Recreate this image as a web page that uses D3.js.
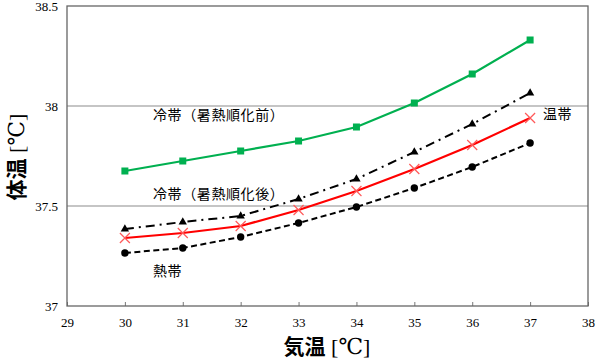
<!DOCTYPE html>
<html><head><meta charset="utf-8">
<script src="https://cdn.jsdelivr.net/npm/d3@7"></script>
<style>body{margin:0;background:#fff}svg{display:block}.serif{font-family:'Liberation Serif','DejaVu Serif',serif}</style>
</head><body><svg id="c" width="600" height="360"></svg>
<script>
const airTemp = [30,31,32,33,34,35,36,37];
const coldBefore = [37.675,37.725,37.775,37.825,37.895,38.015,38.16,38.33];
const coldAfter  = [37.385,37.42,37.45,37.535,37.635,37.77,37.91,38.065];
const temperate  = [37.34,37.365,37.40,37.48,37.575,37.685,37.805,37.94];
const tropical   = [37.265,37.29,37.345,37.415,37.495,37.59,37.695,37.815];
const xTicks = [29,30,31,32,33,34,35,36,37,38];
const yTicks = [37,37.5,38,38.5];
const yTickLabels = ["37","37.5","38","38.5"];
const labels = ["冷帯（暑熱順化前）","冷帯（暑熱順化後）","温帯","熱帯"];

const svg = d3.select("#c");
const x = d3.scaleLinear().domain([29,38]).range([67,588]);
const y = d3.scaleLinear().domain([37,38.5]).range([306,6]);
const serif = "'Liberation Serif','DejaVu Serif',serif";
const cjk = "'Noto Sans CJK JP','Noto Sans CJK SC',sans-serif";

// gridlines
svg.append("g").selectAll("line").data([37.5,38]).join("line")
  .attr("x1",x(29)).attr("x2",x(38)).attr("y1",d=>y(d)).attr("y2",d=>y(d))
  .attr("stroke","#8c8c8c").attr("stroke-width",1.2);

// x axis ticks (inward)
const xa = svg.append("g").attr("transform",`translate(0,${y(37)})`)
  .call(d3.axisBottom(x).tickValues(xTicks).tickSize(-4).tickPadding(12).tickFormat(d3.format("d")));
xa.attr("font-family",serif).attr("font-size",13);
xa.select(".domain").remove();
xa.selectAll("line").attr("stroke","#777");
xa.selectAll("text").attr("class","serif").style("font-family",serif).attr("font-size",13).attr("fill","#000");

// y axis labels
const ya = svg.append("g").attr("transform",`translate(${x(29)},0)`)
  .call(d3.axisLeft(y).tickValues(yTicks).tickSize(0).tickPadding(9).tickFormat((d,i)=>yTickLabels[i]));
ya.attr("font-family",serif).attr("font-size",13);
ya.select(".domain").remove();
ya.selectAll("text").attr("class","serif").style("font-family",serif).attr("font-size",13).attr("fill","#000");

// frame
svg.append("rect").attr("x",x(29)).attr("y",y(38.5)).attr("width",x(38)-x(29)).attr("height",y(37)-y(38.5))
  .attr("fill","none").attr("stroke","#666").attr("stroke-width",1.3);

const line = vals => d3.line().x((d,i)=>x(airTemp[i])).y(d=>y(d))(vals);

// green
svg.append("path").attr("d",line(coldBefore)).attr("fill","none").attr("stroke","#00b050").attr("stroke-width",2.2);
svg.append("g").selectAll("rect").data(coldBefore).join("rect")
  .attr("x",(d,i)=>x(airTemp[i])-3.5).attr("y",d=>y(d)-3.5).attr("width",7).attr("height",7).attr("fill","#00b050");

// dash-dot black with triangles
svg.append("path").attr("d",line(coldAfter)).attr("fill","none").attr("stroke","#000").attr("stroke-width",2)
  .attr("stroke-dasharray","9,5,2,5");
svg.append("g").selectAll("path").data(coldAfter).join("path")
  .attr("d",d3.symbol(d3.symbolTriangle,30)())
  .attr("transform",(d,i)=>`translate(${x(airTemp[i])},${y(d)})`).attr("fill","#000");

// red with X markers
svg.append("path").attr("d",line(temperate)).attr("fill","none").attr("stroke","#ff0000").attr("stroke-width",2.2);
svg.append("g").selectAll("path").data(temperate).join("path")
  .attr("d","M-5,-5L5,5M-5,5L5,-5")
  .attr("transform",(d,i)=>`translate(${x(airTemp[i])},${y(d)})`)
  .attr("stroke","#ff5a5a").attr("stroke-width",1.2).attr("fill","none");

// dashed black with circles
svg.append("path").attr("d",line(tropical)).attr("fill","none").attr("stroke","#000").attr("stroke-width",2)
  .attr("stroke-dasharray","6,3.5");
svg.append("g").selectAll("circle").data(tropical).join("circle")
  .attr("cx",(d,i)=>x(airTemp[i])).attr("cy",d=>y(d)).attr("r",3.7).attr("fill","#000");

// series labels
const lab = [[labels[0],153,120],[labels[1],153,199],[labels[2],543,119],[labels[3],153,276]];
svg.append("g").selectAll("text").data(lab).join("text")
  .attr("x",d=>d[1]).attr("y",d=>d[2]).text(d=>d[0])
  .attr("font-family",cjk).attr("font-size",14).attr("letter-spacing",0.6).attr("fill","#000");

// axis titles
const xt = svg.append("text").attr("x",327).attr("y",354).attr("text-anchor","middle").attr("fill","#000");
xt.append("tspan").text("気温").attr("font-family",cjk).attr("font-weight","bold").attr("font-size",21);
xt.append("tspan").text(" [℃]").style("font-family",serif).attr("font-size",22);

const yt = svg.append("text").attr("transform","translate(24,157) rotate(-90)").attr("text-anchor","middle").attr("fill","#000");
yt.append("tspan").text("体温").attr("font-family",cjk).attr("font-weight","bold").attr("font-size",21);
yt.append("tspan").text(" [℃]").style("font-family",serif).attr("font-size",22);
</script></body></html>
